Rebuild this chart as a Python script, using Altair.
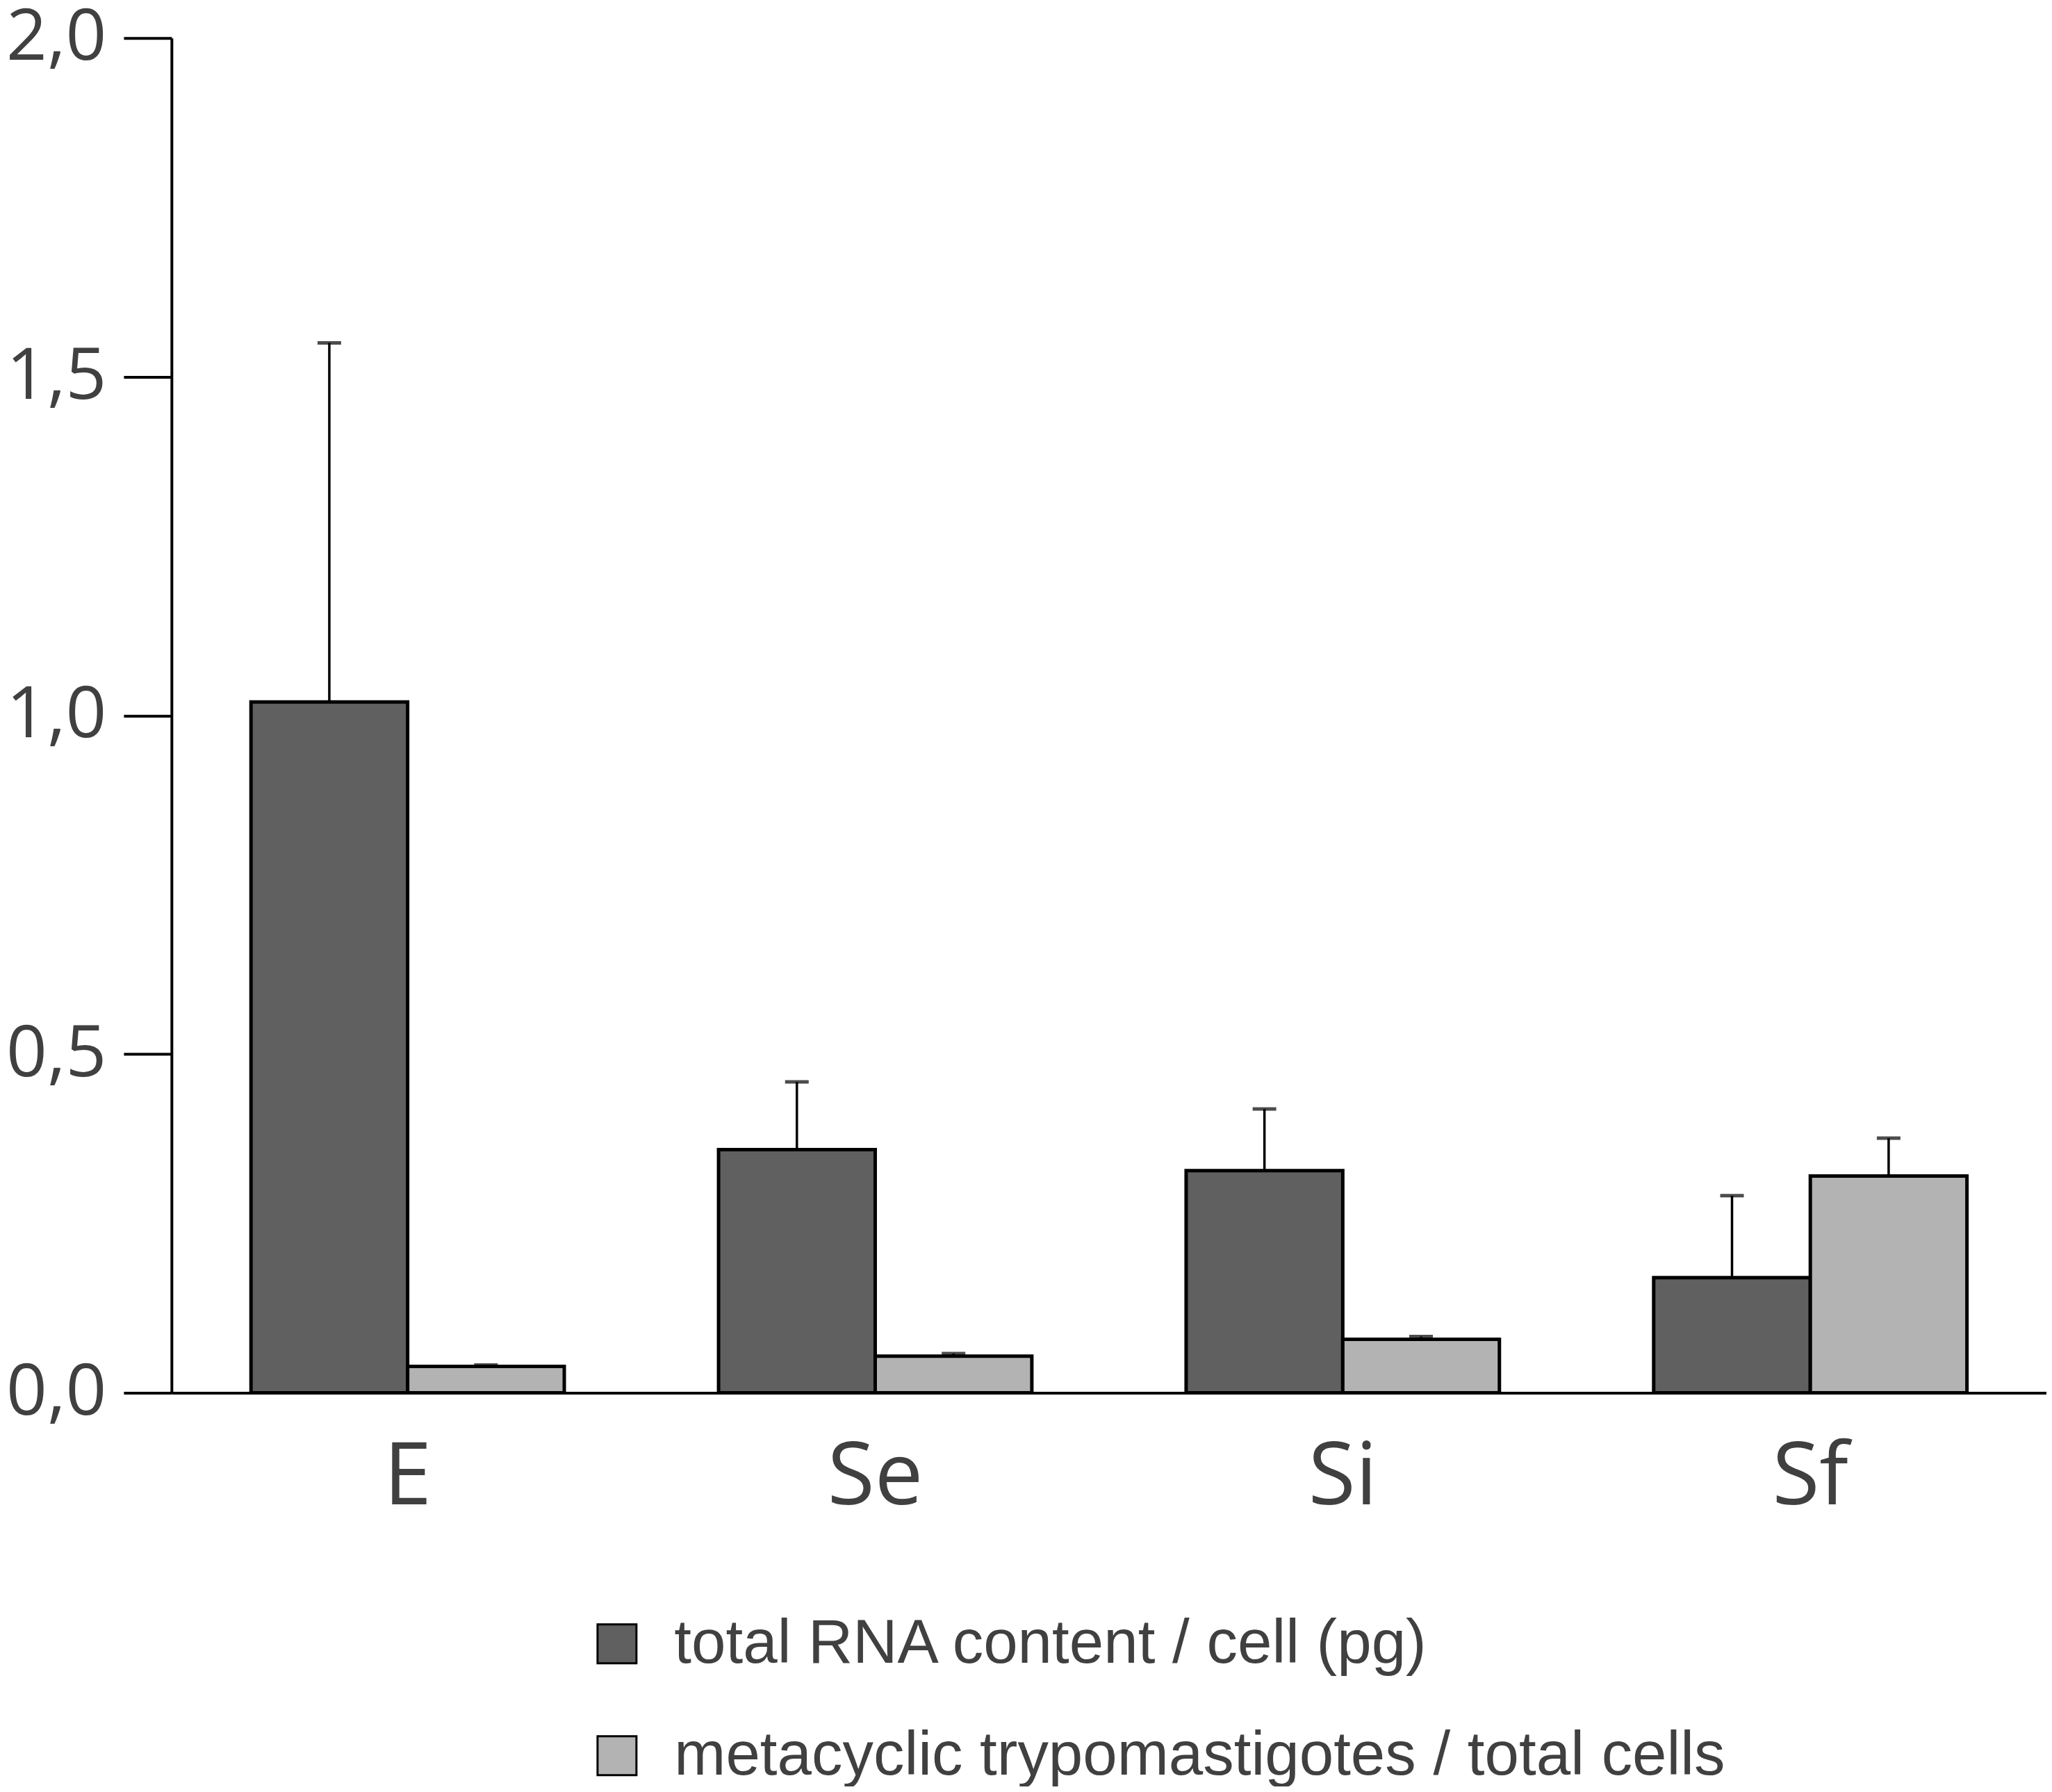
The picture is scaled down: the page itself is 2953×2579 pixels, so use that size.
import altair as alt
import pandas as pd

categories = ["E", "Se", "Si", "Sf"]
series_names = ["total RNA content / cell (pg)", "metacyclic trypomastigotes / total cells"]
rna_values = [1.02, 0.359, 0.328, 0.170]
rna_upper = [1.55, 0.459, 0.419, 0.291]
meta_values = [0.039, 0.054, 0.079, 0.320]
meta_upper = [0.041, 0.058, 0.083, 0.376]
y_ticks = [0, 0.5, 1.0, 1.5, 2.0]
colors = ["#606060", "#b3b3b3"]

rows = []
for i, c in enumerate(categories):
    rows.append({"cat": c, "series": series_names[0], "value": rna_values[i], "upper": rna_upper[i]})
    rows.append({"cat": c, "series": series_names[1], "value": meta_values[i], "upper": meta_upper[i]})
df = pd.DataFrame(rows)

x_scale = alt.Scale(paddingInner=0.33, paddingOuter=0.17)
x_axis = alt.Axis(title=None, labelAngle=0, ticks=False, tickSize=0, grid=False,
                  labelFont="Open Sans", labelFontSize=124, labelColor="#404040",
                  labelPadding=62, domainColor="black", domainWidth=4)
y_scale = alt.Scale(domain=[0, 2], nice=False)
y_axis = alt.Axis(title=None, values=y_ticks, grid=False,
                  labelExpr="replace(format(datum.value, '.1f'), '.', ',')",
                  labelFont="Open Sans", labelFontSize=103, labelColor="#404040",
                  labelPadding=25, tickSize=69, tickWidth=4, tickColor="black",
                  domainColor="black", domainWidth=4)
xoff = alt.XOffset("series:N", sort=series_names, scale=alt.Scale(paddingInner=0, paddingOuter=0))

bars = alt.Chart(df).mark_bar(stroke="black", strokeWidth=5).encode(
    x=alt.X("cat:N", sort=categories, scale=x_scale, axis=x_axis),
    xOffset=xoff,
    y=alt.Y("value:Q", scale=y_scale, axis=y_axis),
    fill=alt.Fill("series:N", sort=series_names,
                  scale=alt.Scale(domain=series_names, range=colors),
                  legend=alt.Legend(title=None, orient="none", legendX=597, legendY=2268,
                                    direction="vertical", symbolType="square", symbolSize=3136,
                                    symbolStrokeColor="black", symbolStrokeWidth=3,
                                    labelFont="Liberation Sans", labelFontSize=89,
                                    labelColor="#404040", labelOffset=38, rowPadding=71,
                                    padding=0, labelLimit=3000)),
)

rules = alt.Chart(df).mark_rule(color="black", strokeWidth=3.5).encode(
    x=alt.X("cat:N", sort=categories, scale=x_scale, axis=x_axis),
    xOffset=xoff,
    y=alt.Y("value:Q", scale=y_scale, axis=y_axis),
    y2="upper:Q",
)

caps = alt.Chart(df).mark_tick(color="black", thickness=5, size=34).encode(
    x=alt.X("cat:N", sort=categories, scale=x_scale, axis=x_axis),
    xOffset=xoff,
    y=alt.Y("upper:Q", scale=y_scale, axis=y_axis),
)

chart = alt.layer(bars, rules, caps).properties(
    width=2700, height=1951,
    autosize=alt.AutoSizeParams(type="none"),
    padding={"left": 239, "top": 46, "right": 0, "bottom": 566},
    view=alt.ViewBackground(stroke="white", strokeWidth=0, strokeOpacity=0),
).configure_view(stroke="white", strokeWidth=0, strokeOpacity=0).configure_axis(
    grid=False, gridOpacity=0
).configure(background="white")

chart.save("out.html", embed_options={"renderer": "svg", "actions": False})
